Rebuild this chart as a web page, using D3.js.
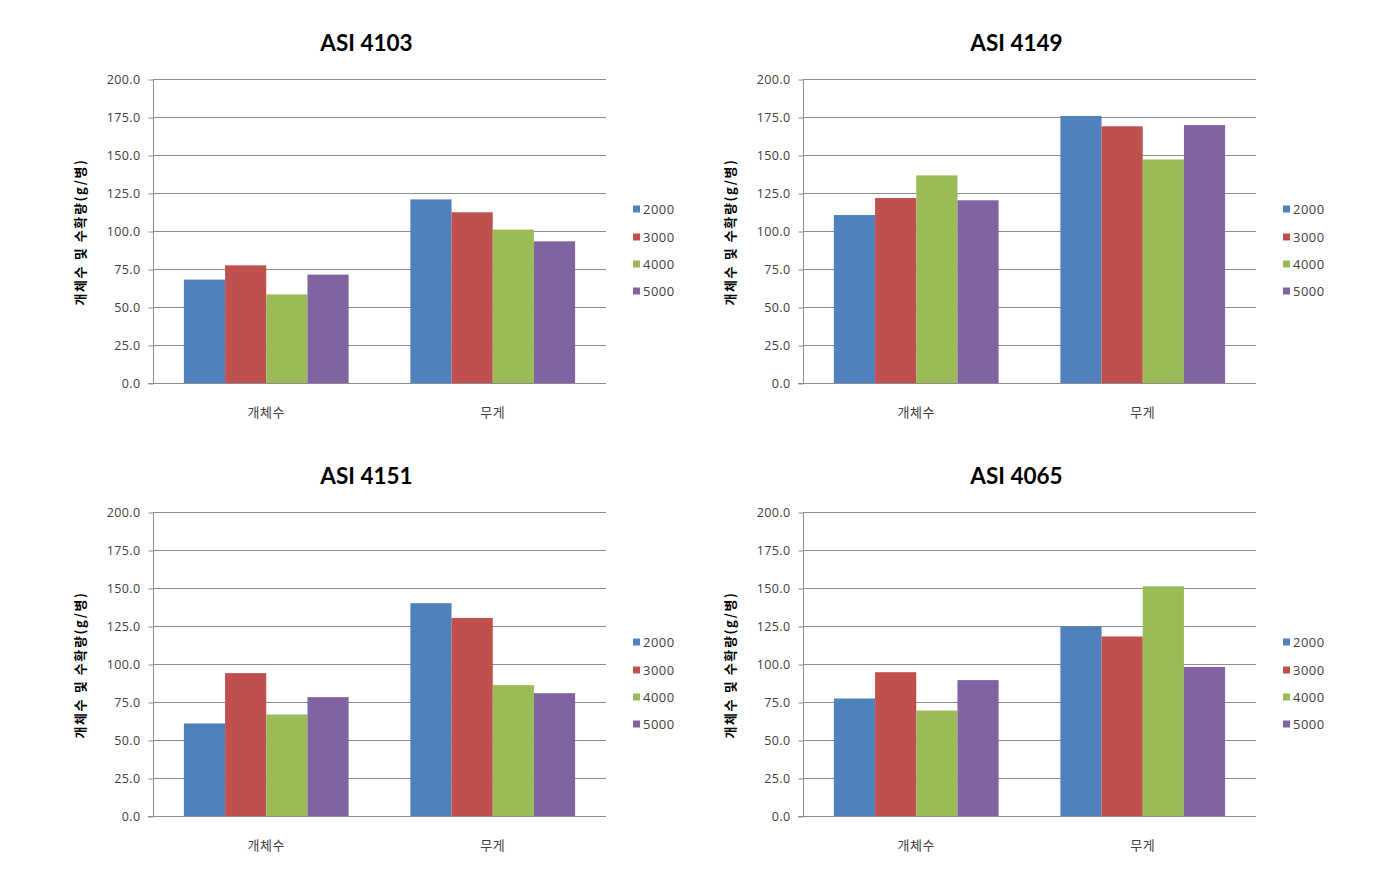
<!DOCTYPE html>
<html><head><meta charset="utf-8">
<script src="https://cdn.jsdelivr.net/npm/d3@7"></script>
<style>body{margin:0;background:#fff}</style>
</head><body>
<svg id="c" width="1395" height="881"></svg>
<script>
const titles = ["ASI 4103", "ASI 4149", "ASI 4151", "ASI 4065"];
const categories = ["개체수", "무게"];
const seriesNames = ["2000", "3000", "4000", "5000"];
const colors = ["#4F81BD", "#C0504D", "#9BBB59", "#8064A2"];
const yTicks = [0, 25, 50, 75, 100, 125, 150, 175, 200];
const yTitle = "개체수 및 수확량(g/병)";
// values[series][category]
const asi4103 = [[68.0, 120.8], [77.4, 112.3], [58.3, 100.9], [71.3, 93.2]];
const asi4149 = [[110.5, 175.7], [121.7, 168.9], [136.6, 147.1], [120.2, 169.7]];
const asi4151 = [[60.9, 140.0], [94.0, 130.3], [66.8, 86.1], [78.2, 80.8]];
const asi4065 = [[77.3, 124.9], [94.6, 118.1], [69.4, 151.1], [89.4, 98.1]];
const panelData = [asi4103, asi4149, asi4151, asi4065];

const svg = d3.select("#c");
const font = "'Open Sans', 'Noto Sans CJK KR', sans-serif";
const offsets = [[0, 0], [650, 0], [0, 433], [650, 433]];

panelData.forEach((vals, p) => {
  const [ox, oy] = offsets[p];
  const g = svg.append("g").attr("transform", `translate(${ox},${oy})`);
  const L = 153, R = 606, T = 79, B = 383;
  const x0 = d3.scaleBand().domain(categories).range([L, R]).paddingInner(0).paddingOuter(0);
  const bw = x0.bandwidth() / 5.5;
  const x1 = d3.scaleBand().domain(seriesNames).range([0, bw * 4]);
  const y = d3.scaleLinear().domain([0, 200]).range([B, T]);

  // gridlines
  g.append("g").selectAll("line").data(yTicks).join("line")
    .attr("x1", L).attr("x2", R).attr("y1", d => y(d) + 0.5).attr("y2", d => y(d) + 0.5)
    .attr("stroke", "#8c8c8c").attr("stroke-width", 1);

  // bars
  seriesNames.forEach((s, si) => {
    g.append("g").selectAll("rect").data(categories).join("rect")
      .attr("x", c => x0(c) + bw * 0.75 + x1(s))
      .attr("y", (c, ci) => y(vals[si][ci]))
      .attr("width", x1.bandwidth())
      .attr("height", (c, ci) => B - y(vals[si][ci]))
      .attr("fill", colors[si]);
  });

  // y axis
  const ya = d3.axisLeft(y).tickValues(yTicks).tickFormat(d3.format(".1f")).tickSize(5).tickPadding(8);
  const yg = g.append("g").attr("transform", `translate(${L + 0.5},0.5)`).call(ya);
  yg.select(".domain").attr("stroke", "#8c8c8c").attr("d", `M0,${T}V${B}`);
  yg.selectAll(".tick line").attr("stroke", "#8c8c8c");
  yg.selectAll("text").attr("fill", "#404040").style("font-family", font)
    .style("font-size", "12.5px").style("letter-spacing", "0.4px");

  // x axis line
  g.append("line").attr("x1", L - 5).attr("x2", R).attr("y1", B + 0.5).attr("y2", B + 0.5)
    .attr("stroke", "#8c8c8c");
  const xa = d3.axisBottom(x0).tickSize(0).tickPadding(0);
  const xg = g.append("g").attr("transform", `translate(0,${B + 25})`).call(xa);
  xg.select(".domain").remove();
  xg.selectAll("text").attr("fill", "#404040").style("font-family", font)
    .style("font-size", "13px").style("letter-spacing", "0.5px");

  // title
  g.append("text").attr("x", (L + R) / 2 - 13).attr("y", 51).attr("text-anchor", "middle")
    .style("font-family", "Lato, 'Open Sans', sans-serif").style("font-weight", "bold").style("font-size", "22.5px")
    .attr("fill", "#000").text(titles[p]);

  // y title
  g.append("text").attr("transform", `translate(85,232) rotate(-90)`).attr("text-anchor", "middle")
    .style("font-family", "'Noto Sans CJK KR', sans-serif").style("font-weight", "bold").style("font-size", "13px")
    .style("letter-spacing", "1.6px")
    .attr("fill", "#000").text(yTitle);

  // legend
  const lg = g.append("g").attr("transform", "translate(633,0)");
  const ly = [209, 237, 264, 291];
  seriesNames.forEach((s, si) => {
    lg.append("rect").attr("x", 0).attr("y", ly[si] - 3.5).attr("width", 7).attr("height", 7).attr("fill", colors[si]);
    lg.append("text").attr("x", 10).attr("y", ly[si] + 4.5).attr("fill", "#404040")
      .style("font-family", font).style("font-size", "13px").style("letter-spacing", "0.5px").text(s);
  });
});
</script>
</body></html>
